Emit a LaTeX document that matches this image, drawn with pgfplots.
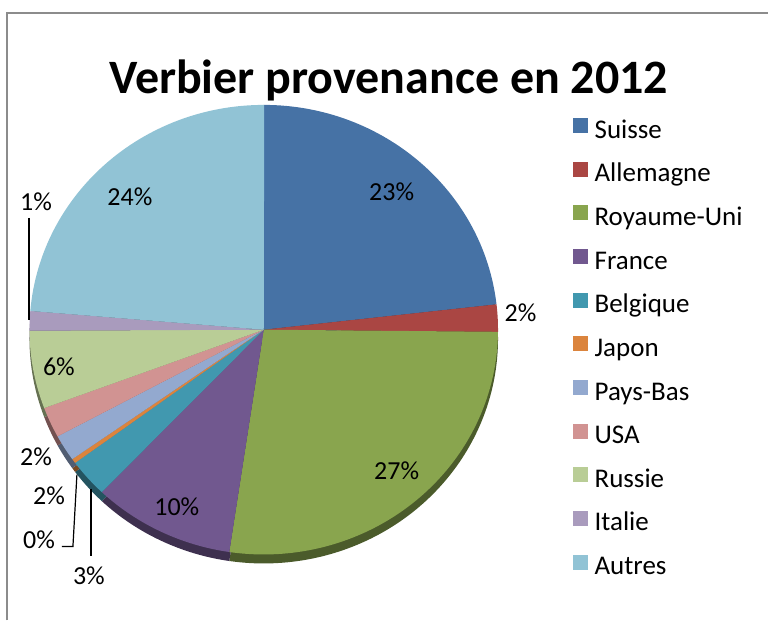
\documentclass[border=0pt]{standalone}
\usepackage{pgfplots}
\pgfplotsset{compat=1.18}
\usepackage{pgfplotstable}
\usepackage{fontspec}
\setmainfont{Carlito}
\definecolor{c0}{HTML}{4672A5}
\definecolor{c1}{HTML}{AA4643}
\definecolor{c2}{HTML}{89A54E}
\definecolor{c3}{HTML}{71588F}
\definecolor{c4}{HTML}{4198AF}
\definecolor{c5}{HTML}{DB843D}
\definecolor{c6}{HTML}{93A9CF}
\definecolor{c7}{HTML}{D19392}
\definecolor{c8}{HTML}{B9CD96}
\definecolor{c9}{HTML}{A99BBD}
\definecolor{c10}{HTML}{91C3D5}
\definecolor{framegray}{HTML}{8C8C8C}
% value = share in percent; lx, ly = position of the data label (picture pixels, y downwards)
\pgfplotstableread{
name        value  lx   ly
Suisse      23.2   392  192
Allemagne   1.95   521  313
Royaume-Uni 27.2   397  471
France      9.8    177  507
Belgique    2.75   89   576
Japon       0.33   39   540
Pays-Bas    1.9    49   496
USA         2.2    36   457
Russie      5.6    59   367
Italie      1.4    36   202
Autres      23.7   130  197
}\piedata
\pgfkeys{/pgf/number format/assume math mode=true}
\newcommand\lblfont{\fontsize{26bp}{30bp}\selectfont}
\newcommand\legfont{\fontsize{27bp}{31bp}\selectfont}
\begin{document}
\begin{tikzpicture}
\xdef\cum{90}
\foreach \i in {0,...,10}{%
  \pgfplotstablegetelem{\i}{value}\of\piedata
  \let\v\pgfplotsretval
  \expandafter\xdef\csname pgfk@/pie/v/\i\endcsname{\v}%
  \pgfmathsetmacro\ea{\cum-3.6*\v}%
  \expandafter\xdef\csname pgfk@/pie/sa/\i\endcsname{\cum}%
  \expandafter\xdef\csname pgfk@/pie/ea/\i\endcsname{\ea}%
  \pgfplotstablegetelem{\i}{lx}\of\piedata
  \expandafter\xdef\csname pgfk@/pie/lx/\i\endcsname{\pgfplotsretval}%
  \pgfplotstablegetelem{\i}{ly}\of\piedata
  \expandafter\xdef\csname pgfk@/pie/ly/\i\endcsname{\pgfplotsretval}%
  \pgfplotstablegetelem{\i}{name}\of\piedata
  \expandafter\xdef\csname pgfk@/pie/n/\i\endcsname{\pgfplotsretval}%
  \xdef\cum{\ea}%
}
\begin{axis}[
  at={(0,0)}, anchor=origin,
  width=769bp, height=621bp, scale only axis,
  xmin=0, xmax=769, ymin=0, ymax=621, y dir=reverse,
  hide axis, clip=false,
  legend style={at={(axis cs:573,118)}, anchor=north west, draw=none, fill=none,
    inner sep=0pt, row sep=17.7bp, column sep=7bp,
    font=\legfont,
    nodes={inner sep=0pt, text height=18bp, text depth=6bp}},
  legend cell align=left,
  legend image code/.code={\fill[#1] (0bp,-1bp) rectangle (15bp,14bp);},
]
% bounding box and chart frame
\path (axis cs:0,0) rectangle (axis cs:769,621);
\draw[framegray, line width=1.5bp] (axis cs:7,621) -- (axis cs:7,13) -- (axis cs:769,13);
% 3D side of the pie
\pgfplotsinvokeforeach{0,...,10}{
  \fill[fill=c#1!55!black] (axis cs:264,339) -- ++(\pgfkeysvalueof{/pie/sa/#1}:234.5bp and 225bp)
    arc[start angle=\pgfkeysvalueof{/pie/sa/#1}, end angle=\pgfkeysvalueof{/pie/ea/#1}, x radius=234.5bp, y radius=225bp] -- cycle;
}
% top of the pie
\pgfplotsinvokeforeach{0,...,10}{
  \fill[fill=c#1] (axis cs:264,330) -- ++(\pgfkeysvalueof{/pie/sa/#1}:234.5bp and 225bp)
    arc[start angle=\pgfkeysvalueof{/pie/sa/#1}, end angle=\pgfkeysvalueof{/pie/ea/#1}, x radius=234.5bp, y radius=225bp] -- cycle;
}
% data labels
\pgfplotsinvokeforeach{0,...,10}{
  \node[font=\lblfont, inner sep=0pt] at (axis cs:\pgfkeysvalueof{/pie/lx/#1},\pgfkeysvalueof{/pie/ly/#1})
    {\pgfmathprintnumber[fixed,precision=0]{\pgfkeysvalueof{/pie/v/#1}}\%};
}
% leader lines
\draw[black, line width=1.2bp] (axis cs:91,489) -- (axis cs:91,557);
\draw[black, line width=1.2bp] (axis cs:77,475) -- (axis cs:73,547) -- (axis cs:62,547);
\draw[black, line width=1.2bp] (axis cs:29,218) -- (axis cs:29,320);
% title
\node[anchor=base, font=\fontsize{48bp}{56bp}\selectfont\bfseries, inner sep=0pt] at (axis cs:389,94) {Verbier provenance en 2012};
% legend
\pgfplotsinvokeforeach{0,...,10}{
  \addlegendimage{fill=c#1, draw=none}
  \addlegendentry{\pgfkeysvalueof{/pie/n/#1}}
}
\end{axis}
\end{tikzpicture}
\end{document}
